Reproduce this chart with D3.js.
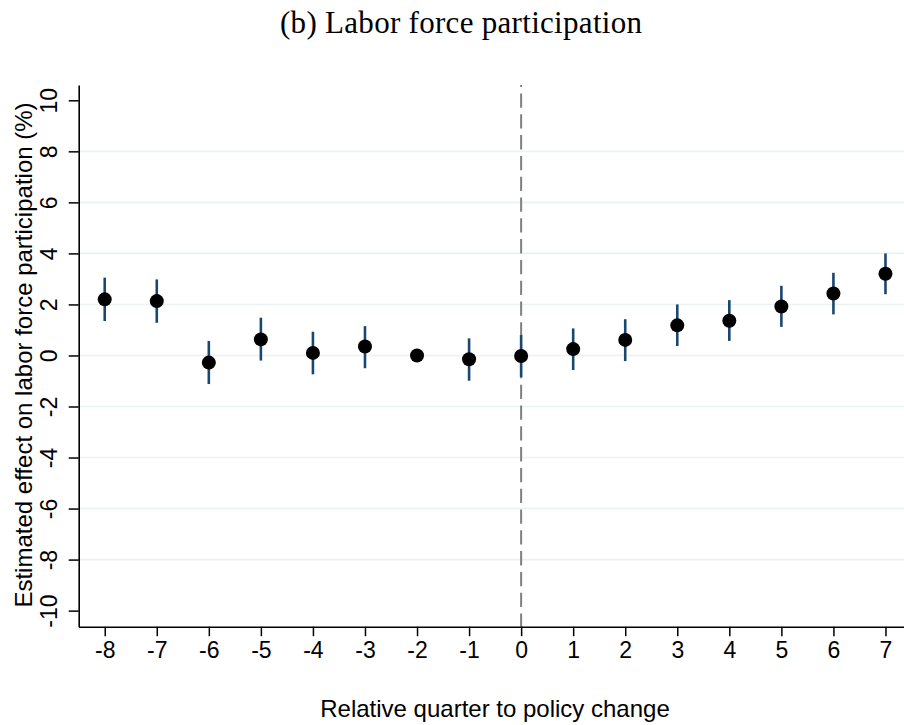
<!DOCTYPE html>
<html>
<head>
<meta charset="utf-8">
<script src="https://cdn.jsdelivr.net/npm/d3@7"></script>
<style>
  html, body { margin: 0; padding: 0; background: #fff; }
  svg { display: block; }
</style>
</head>
<body>
<svg id="chart" width="904" height="725"></svg>
<script>
// ---- Data ----
const quarters = [-8, -7, -6, -5, -4, -3, -2, -1, 0, 1, 2, 3, 4, 5, 6, 7];
const estimates = [2.20, 2.13, -0.28, 0.63, 0.10, 0.35, 0.00, -0.15, -0.02, 0.25, 0.61, 1.18, 1.36, 1.92, 2.43, 3.20];
const ciLow  = [1.35, 1.28, -1.12, -0.20, -0.74, -0.50, 0.00, -0.99, -0.85, -0.57, -0.22, 0.37, 0.57, 1.12, 1.61, 2.40];
const ciHigh = [3.05, 2.98, 0.57, 1.48, 0.93, 1.15, 0.00, 0.67, 0.80, 1.06, 1.42, 2.00, 2.17, 2.73, 3.24, 4.00];
const yTickValues = [-10, -8, -6, -4, -2, 0, 2, 4, 6, 8, 10];
const gridValues = [-8, -6, -4, -2, 0, 2, 4, 6, 8];
const xTickValues = quarters;
const titleText = "(b) Labor force participation";
const xTitle = "Relative quarter to policy change";
const yTitle = "Estimated effect on labor force participation (%)";
const eventQuarter = 0;

const rows = quarters.map((q, i) => ({q, est: estimates[i], lo: ciLow[i], hi: ciHigh[i]}));

// ---- Layout ----
const W = 904, H = 725;
const plotLeft = 78.7, plotTop = 85, plotBottom = 626.7;
const sansFont = "'Liberation Sans', Arial, Helvetica, sans-serif";

const svg = d3.select("#chart");

const x = d3.scaleLinear().domain([-8.5, 7.5]).range([plotLeft, plotLeft + 16 * 52.05]);
const y = d3.scaleLinear().domain([-10.63, 10.6]).range([plotBottom, plotTop]);

// Title
svg.append("text")
  .attr("x", 461).attr("y", 33)
  .attr("text-anchor", "middle")
  .attr("font-family", "'Liberation Serif', 'Times New Roman', serif")
  .attr("font-size", 31)
  .attr("textLength", 362)
  .attr("lengthAdjust", "spacing")
  .attr("fill", "#000")
  .text(titleText);

// Gridlines
svg.append("g").selectAll("line").data(gridValues).join("line")
  .attr("x1", plotLeft).attr("x2", W)
  .attr("y1", d => y(d)).attr("y2", d => y(d))
  .attr("stroke", "#eaf2f3").attr("stroke-width", 1.6);

// Dashed event line
svg.append("line")
  .attr("x1", x(eventQuarter)).attr("x2", x(eventQuarter))
  .attr("y1", plotTop).attr("y2", plotBottom)
  .attr("stroke", "#808080").attr("stroke-width", 2)
  .attr("stroke-dasharray", "14.3 6.5")
  .attr("stroke-dashoffset", 12.3);

// Error bars
svg.append("g").selectAll("line").data(rows).join("line")
  .attr("x1", d => x(d.q)).attr("x2", d => x(d.q))
  .attr("y1", d => y(d.lo)).attr("y2", d => y(d.hi))
  .attr("stroke", "#1a476f").attr("stroke-width", 2.6);

// Points
svg.append("g").selectAll("circle").data(rows).join("circle")
  .attr("cx", d => x(d.q)).attr("cy", d => y(d.est))
  .attr("r", 7).attr("fill", "#000");

// Y axis
const yAxis = svg.append("g")
  .attr("transform", `translate(${plotLeft},0)`)
  .call(d3.axisLeft(y).tickValues(yTickValues).tickSize(10).tickSizeOuter(0).tickFormat(d3.format("d")));
yAxis.select(".domain").attr("stroke", "#000").attr("stroke-width", 1.6);
yAxis.selectAll(".tick line").attr("stroke", "#000").attr("stroke-width", 1.5);
yAxis.selectAll(".tick text")
  .attr("x", null).attr("dy", null)
  .attr("transform", "translate(-21.7,0) rotate(-90)")
  .attr("text-anchor", "middle")
  .attr("font-family", sansFont).attr("font-size", 23).attr("fill", "#000")
  .text(d => d < 0 ? "-" + Math.abs(d) : String(d));

// X axis
const xAxis = svg.append("g")
  .attr("transform", `translate(0,${plotBottom})`)
  .call(d3.axisBottom(x).tickValues(xTickValues).tickSize(9.5).tickSizeOuter(0));
xAxis.select(".domain").attr("stroke", "#000").attr("stroke-width", 1.6);
xAxis.selectAll(".tick line").attr("stroke", "#000").attr("stroke-width", 1.5);
xAxis.selectAll(".tick text")
  .attr("y", 31.5).attr("dy", null)
  .attr("font-family", sansFont).attr("font-size", 23).attr("fill", "#000")
  .text(d => d < 0 ? "-" + Math.abs(d) : String(d));

// Axis titles
svg.append("text")
  .attr("x", 495).attr("y", 716.5)
  .attr("text-anchor", "middle")
  .attr("font-family", sansFont).attr("font-size", 24).attr("fill", "#000")
  .text(xTitle);

svg.append("text")
  .attr("transform", "translate(32,355) rotate(-90)")
  .attr("text-anchor", "middle")
  .attr("font-family", sansFont).attr("font-size", 24).attr("fill", "#000")
  .text(yTitle);
</script>
</body>
</html>
